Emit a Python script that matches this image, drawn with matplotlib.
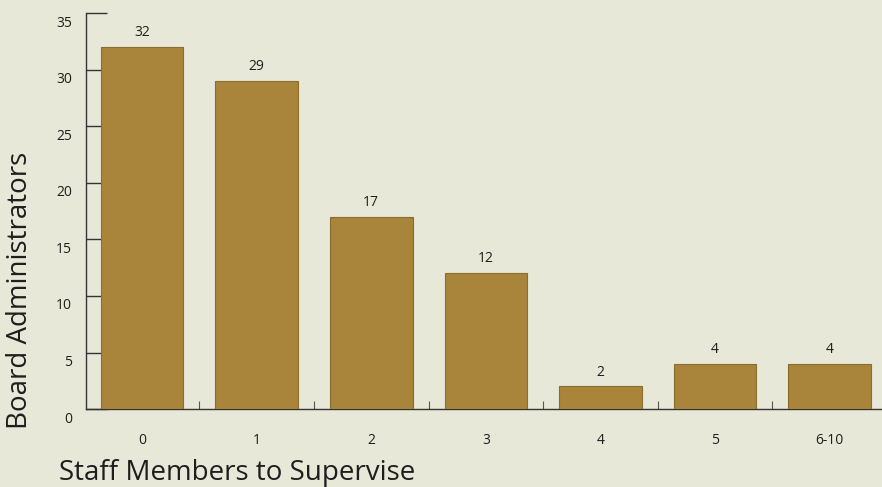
import matplotlib
matplotlib.use("Agg")
import matplotlib.pyplot as plt
import matplotlib.transforms as mtransforms
import numpy as np

# Data
categories = ["0", "1", "2", "3", "4", "5", "6-10"]
counts = [32, 29, 17, 12, 2, 4, 4]
y_ticks = [0, 5, 10, 15, 20, 25, 30, 35]

plt.rcParams["font.family"] = ["Open Sans", "DejaVu Sans"]

bg = "#e8e8d8"
bar_color = "#a8853a"
ink = "#1e1e1e"

fig = plt.figure(figsize=(8.82, 4.87), dpi=100, facecolor=bg)
ax = fig.add_axes([0.0975, 0.16, 0.9015, 0.813], facecolor=bg)

x = np.arange(len(categories))
bars = ax.bar(x, counts, width=0.72, color=bar_color, edgecolor="#8a6c2c",
              linewidth=0.8, zorder=3)

# value labels above each bar
for rect, val in zip(bars, counts):
    ax.annotate(str(val), (rect.get_x() + rect.get_width() / 2, rect.get_height()),
                xytext=(0, 5), textcoords="offset points",
                ha="center", va="bottom", fontsize=10, color=ink)

ax.set_xlim(-0.49, 6.45)
ax.set_ylim(0, 35)

# spines
for side in ("top", "right"):
    ax.spines[side].set_visible(False)
for side in ("left", "bottom"):
    ax.spines[side].set_color("#333333")
    ax.spines[side].set_linewidth(1.0)

# y ticks pointing inward, labels sit a little below their tick
ax.set_yticks(y_ticks)
ax.tick_params(axis="y", direction="in", length=15, width=1.0, color="#333333",
               labelsize=10, pad=10, labelcolor=ink)
shift = mtransforms.ScaledTranslation(0, -8 / 100, fig.dpi_scale_trans)
for lab in ax.get_yticklabels():
    lab.set_transform(lab.get_transform() + shift)

# x labels under bars, small inward ticks between categories
ax.set_xticks(x)
ax.set_xticklabels(categories)
ax.set_xticks(np.arange(0.5, len(categories) - 1, 1.0), minor=True)
ax.tick_params(axis="x", which="major", length=0, labelsize=10, pad=17,
               labelcolor=ink)
ax.tick_params(axis="x", which="minor", direction="in", length=6, width=0.8,
               color="#555555")

ax.set_ylabel("Board Administrators", fontsize=20, color=ink)
ax.yaxis.set_label_coords(-0.066, 0.30)
ax.set_xlabel("Staff Members to Supervise", fontsize=20, color=ink)
ax.xaxis.set_label_coords(0.19, -0.125)

fig.savefig("out.png", dpi=100, facecolor=bg)
